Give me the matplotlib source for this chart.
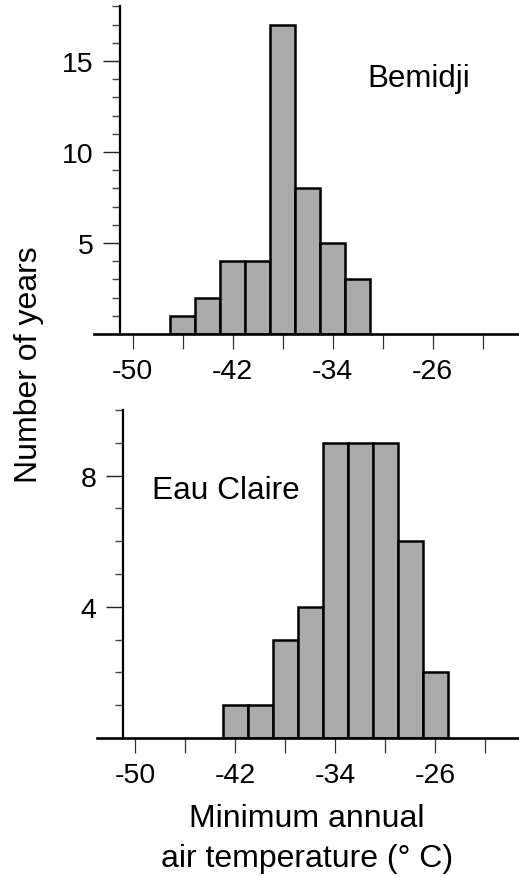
import matplotlib
matplotlib.use("Agg")
import matplotlib.pyplot as plt
import numpy as np
from matplotlib.ticker import FixedLocator, MultipleLocator

plt.rcParams['font.family'] = ['Liberation Sans', 'DejaVu Sans']

# Data
bemidji_left_edges = [-47, -45, -43, -41, -39, -37, -35, -33]
bemidji_counts = [1, 2, 4, 4, 17, 8, 5, 3]
eau_left_edges = [-43, -41, -39, -37, -35, -33, -31, -29, -27]
eau_counts = [1, 1, 3, 4, 9, 9, 9, 6, 2]
bin_width = 2
x_major = [-50, -42, -34, -26]
x_minor = [-46, -38, -30, -22]
x_labels = ['-50', '-42', '-34', '-26']

W, H = 519, 878
fig = plt.figure(figsize=(W / 100, H / 100), dpi=100)

def px_axes(left, right, top, bottom):
    return fig.add_axes([left / W, 1 - bottom / H, (right - left) / W, (bottom - top) / H])

ax1 = px_axes(94, 519, 7.3, 335)
ax2 = px_axes(96.7, 521.7, 411, 739)

bar_color = '#aaaaaa'
tick_fs = 20.5

def style(ax, ymax, ymajor):
    ax.set_xlim(-53.1, -19.1)
    ax.set_ylim(0, ymax)
    for s in ['top', 'right']:
        ax.spines[s].set_visible(False)
    ax.spines['left'].set_position(('data', -51))
    ax.spines['left'].set_linewidth(1.6)
    ax.spines['bottom'].set_linewidth(1.9)
    ax.xaxis.set_major_locator(FixedLocator(x_major))
    ax.xaxis.set_minor_locator(FixedLocator(x_minor))
    ax.set_xticklabels(x_labels)
    ax.yaxis.set_major_locator(FixedLocator(ymajor))
    ax.yaxis.set_minor_locator(FixedLocator([v for v in range(1, ymax + 1) if v not in ymajor]))
    ax.tick_params(axis='x', which='both', direction='out', length=10.8, width=0.9,
                   color='#333333', labelsize=tick_fs, pad=6.5)
    ax.tick_params(axis='y', which='major', direction='out', length=12, width=1.0,
                   color='#222222', labelsize=tick_fs, pad=7)
    ax.tick_params(axis='y', which='minor', direction='out', length=5.6, width=1.0,
                   color='#444444')
    ax.patch.set_visible(False)

ax1.bar(bemidji_left_edges, bemidji_counts, width=bin_width, align='edge',
        color=bar_color, edgecolor='black', linewidth=1.8, zorder=1)
style(ax1, 18, [5, 10, 15])
ax1.text(-27.1, 13.6, 'Bemidji', ha='center', va='baseline', fontsize=22.5)

ax2.bar(eau_left_edges, eau_counts, width=bin_width, align='edge',
        color=bar_color, edgecolor='black', linewidth=1.8, zorder=1)
style(ax2, 10, [4, 8])
ax2.text(-42.76, 7.31, 'Eau Claire', ha='center', va='baseline', fontsize=22.8)

fig.text(29 / W, 1 - 365 / H, 'Number of years', rotation=90, ha='center', va='center',
         fontsize=23)
fig.text(307 / W, 1 - 827 / H, 'Minimum annual', ha='center', va='baseline', fontsize=23)
fig.text(307 / W, 1 - 867 / H, 'air temperature (° C)', ha='center', va='baseline', fontsize=23)

fig.savefig('out.png', dpi=100)
